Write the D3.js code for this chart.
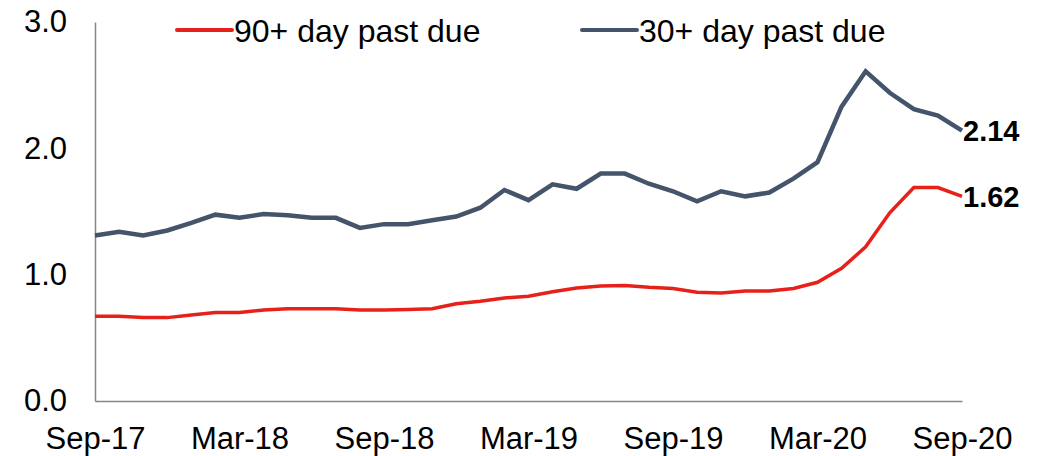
<!DOCTYPE html>
<html>
<head>
<meta charset="utf-8">
<script src="https://cdn.jsdelivr.net/npm/d3@7"></script>
<style>
  html, body { margin: 0; padding: 0; background: #fff; }
  svg { display: block; font-family: "Liberation Sans", Arial, sans-serif; }
</style>
</head>
<body>
<svg id="chart" width="1040" height="456"></svg>
<script>
// Months Sep-17 .. Sep-20 (37 monthly observations)
const months = [
  "Sep-17","Oct-17","Nov-17","Dec-17","Jan-18","Feb-18","Mar-18","Apr-18","May-18","Jun-18","Jul-18","Aug-18",
  "Sep-18","Oct-18","Nov-18","Dec-18","Jan-19","Feb-19","Mar-19","Apr-19","May-19","Jun-19","Jul-19","Aug-19",
  "Sep-19","Oct-19","Nov-19","Dec-19","Jan-20","Feb-20","Mar-20","Apr-20","May-20","Jun-20","Jul-20","Aug-20","Sep-20"
];
const past90 = [
  0.67, 0.67, 0.66, 0.66, 0.68, 0.70, 0.70, 0.72, 0.73, 0.73, 0.73, 0.72,
  0.72, 0.725, 0.73, 0.77, 0.79, 0.815, 0.83, 0.865, 0.895, 0.91, 0.915, 0.90,
  0.89, 0.86, 0.855, 0.87, 0.87, 0.89, 0.94, 1.05, 1.22, 1.49, 1.69, 1.69, 1.62
];
const past30 = [
  1.31, 1.34, 1.31, 1.35, 1.41, 1.475, 1.45, 1.48, 1.47, 1.45, 1.45, 1.37,
  1.40, 1.40, 1.43, 1.46, 1.53, 1.67, 1.59, 1.715, 1.68, 1.80, 1.80, 1.72,
  1.66, 1.58, 1.66, 1.62, 1.65, 1.76, 1.89, 2.33, 2.61, 2.44, 2.31, 2.26, 2.14
];
const xTickLabels = ["Sep-17","Mar-18","Sep-18","Mar-19","Sep-19","Mar-20","Sep-20"];
const yTicks = [0, 1, 2, 3];
const seriesNames = ["90+ day past due", "30+ day past due"];
const endLabels = ["1.62", "2.14"];

const colors = ["#E8201A", "#44546A"];
const widths = [3.5, 4.5];

const svg = d3.select("#chart");
const x = d3.scalePoint().domain(months).range([95, 962]);
const y = d3.scaleLinear().domain([0, 3]).range([401, 22]);

// Axes lines
const axisColor = "#868686";
const yAxis = svg.append("g").attr("transform", "translate(95,0)")
  .call(d3.axisLeft(y).tickValues(yTicks).tickSize(0).tickPadding(28).tickFormat(d3.format(".1f")));
yAxis.select(".domain").attr("stroke", axisColor).attr("stroke-width", 1.5);
yAxis.selectAll("text").attr("font-size", 31).attr("fill", "#000")
  .attr("font-family", "'Liberation Sans', Arial, sans-serif");

const xAxis = svg.append("g").attr("transform", "translate(0,401)")
  .call(d3.axisBottom(x).tickValues(xTickLabels).tickSize(0).tickPadding(26));
xAxis.select(".domain").attr("stroke", axisColor).attr("stroke-width", 1.5);
xAxis.selectAll("text").attr("font-size", 31).attr("fill", "#000")
  .attr("font-family", "'Liberation Sans', Arial, sans-serif");

// Lines
const data = [past90, past30];
const line = d3.line().x((d, i) => x(months[i])).y(d => y(d));
data.forEach((s, k) => {
  svg.append("path").datum(s)
    .attr("fill", "none").attr("stroke", colors[k]).attr("stroke-width", widths[k])
    .attr("stroke-linejoin", "miter").attr("d", line);
  svg.append("text")
    .attr("x", x(months[months.length - 1]) + 1)
    .attr("y", y(s[s.length - 1]))
    .attr("dy", "0.36em")
    .attr("font-size", 29).attr("font-weight", "bold").attr("fill", "#000")
    .text(endLabels[k]);
});

// Legend
const legendX = [177, 582];
seriesNames.forEach((name, k) => {
  const g = svg.append("g").attr("transform", `translate(${legendX[k]},30)`);
  g.append("line").attr("x1", 0).attr("x2", 55).attr("y1", 0).attr("y2", 0)
    .attr("stroke", colors[k]).attr("stroke-width", 4).attr("stroke-linecap", "round");
  g.append("text").attr("x", 57).attr("y", 0).attr("dy", "0.36em")
    .attr("font-size", 32).attr("fill", "#000").text(name);
});
</script>
</body>
</html>
